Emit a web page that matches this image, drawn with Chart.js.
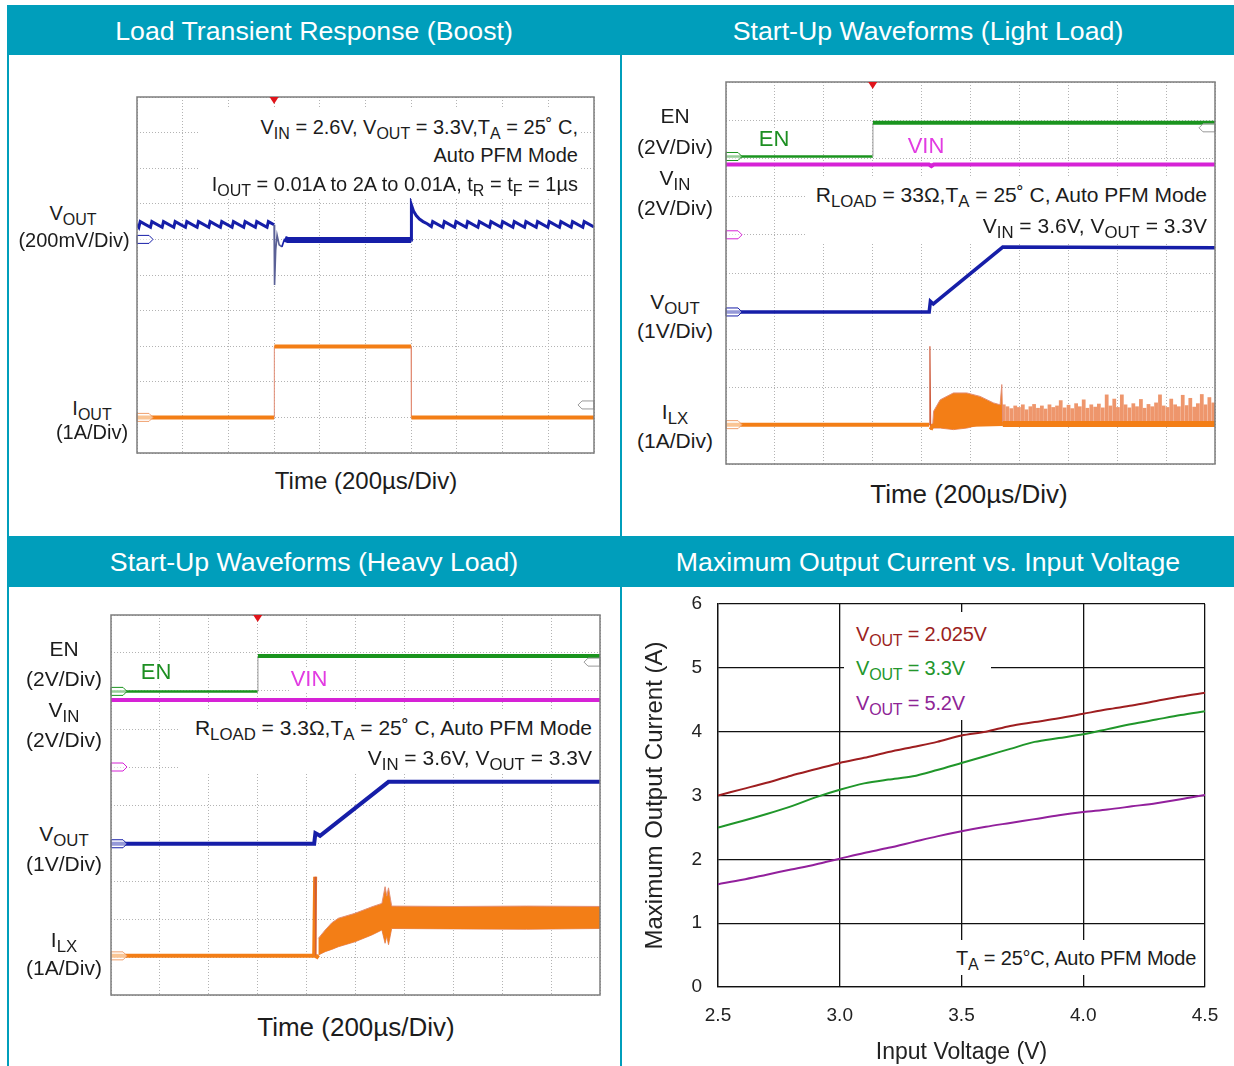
<!DOCTYPE html>
<html>
<head>
<meta charset="utf-8">
<title>Boost converter: load transient, start-up and maximum output current</title>
<script src="https://cdn.jsdelivr.net/npm/chart.js@4.4.1/dist/chart.umd.min.js"></script>
<style>
  html, body { margin: 0; padding: 0; background: #fff; }
  body { position: relative; width: 1234px; height: 1066px; overflow: hidden;
         font-family: "Liberation Sans", Arial, sans-serif; color: #1c1c1c; }
  .band { position: absolute; left: 7px; width: 1227px; background: #009ebb; }
  .rule { position: absolute; width: 2px; background: #009ebb; }
  .title { position: absolute; color: #fff; font-size: 26.7px; line-height: 1; white-space: nowrap;
           transform: translate(-50%, -50%); }
  .plot { position: absolute; }
  .wb { position: absolute; background: #fff; }
  .txt { position: absolute; white-space: nowrap; line-height: 1; }
  .c { transform: translate(-50%, -50%); }
  .r { transform: translate(-100%, -50%); }
  .l { transform: translate(0, -50%); }
  .s { font-size: 0.8em; position: relative; top: 0.32em; }
</style>
</head>
<body>

<!-- header bands and panel rules -->
<div class="band" style="top:5px;height:50px"></div>
<div class="band" style="top:536px;height:51px"></div>
<div class="rule" style="left:7px;top:55px;height:481px"></div>
<div class="rule" style="left:7px;top:587px;height:479px"></div>
<div class="rule" style="left:620px;top:55px;height:481px"></div>
<div class="rule" style="left:620px;top:587px;height:479px"></div>

<div class="title" style="left:314px;top:31px">Load Transient Response (Boost)</div>
<div class="title" style="left:928px;top:31px">Start-Up Waveforms (Light Load)</div>
<div class="title" style="left:314px;top:562px">Start-Up Waveforms (Heavy Load)</div>
<div class="title" style="left:928px;top:562px">Maximum Output Current vs. Input Voltage</div>

<canvas id="load-chart" class="plot" width="477" height="376" style="left:127px;top:87px"></canvas>
<canvas id="light-chart" class="plot" width="509" height="402" style="left:716px;top:72px"></canvas>
<canvas id="heavy-chart" class="plot" width="509" height="400" style="left:101px;top:605px"></canvas>
<canvas id="imax-chart" class="plot" width="604" height="476" style="left:630px;top:590px"></canvas>

<!-- white boxes behind in-plot notes -->
<div class="wb" style="left:198px;top:108px;width:382px;height:90px"></div>
<div class="wb" style="left:805px;top:178px;width:408px;height:64px"></div>
<div class="wb" style="left:180px;top:711px;width:418px;height:62px"></div>
<div class="wb" style="left:758px;top:128px;width:32px;height:22px"></div>
<div class="wb" style="left:907px;top:134px;width:39px;height:23px"></div>
<div class="wb" style="left:141px;top:661px;width:31px;height:22px"></div>
<div class="wb" style="left:290px;top:668px;width:38px;height:23px"></div>
<div class="wb" style="left:844px;top:612px;width:147px;height:108px"></div>
<div class="wb" style="left:950px;top:940px;width:248px;height:35px"></div>

<!-- panel 1 text -->
<div class="txt r" style="left:578px;top:127px;font-size:20px">V<span class="s">IN</span> = 2.6V, V<span class="s">OUT</span> = 3.3V,T<span class="s">A</span> = 25˚ C,</div>
<div class="txt r" style="left:578px;top:155px;font-size:20px">Auto PFM Mode</div>
<div class="txt r" style="left:578px;top:184px;font-size:20px">I<span class="s">OUT</span> = 0.01A to 2A to 0.01A, t<span class="s">R</span> = t<span class="s">F</span> = 1µs</div>
<div class="txt c" style="left:73px;top:213px;font-size:20px">V<span class="s">OUT</span></div>
<div class="txt c" style="left:74px;top:240px;font-size:20px">(200mV/Div)</div>
<div class="txt c" style="left:92px;top:408px;font-size:20px">I<span class="s">OUT</span></div>
<div class="txt c" style="left:92px;top:432px;font-size:20px">(1A/Div)</div>
<div class="txt c" style="left:366px;top:481px;font-size:24px">Time (200µs/Div)</div>

<!-- panel 2 text -->
<div class="txt c" style="left:774px;top:139px;font-size:22px;color:#1d8f22">EN</div>
<div class="txt c" style="left:926px;top:146px;font-size:22px;color:#e23ce2">VIN</div>
<div class="txt r" style="left:1207px;top:195px;font-size:21px">R<span class="s">LOAD</span> = 33Ω,T<span class="s">A</span> = 25˚ C, Auto PFM Mode</div>
<div class="txt r" style="left:1207px;top:226px;font-size:21px">V<span class="s">IN</span> = 3.6V, V<span class="s">OUT</span> = 3.3V</div>
<div class="txt c" style="left:675px;top:115px;font-size:21px">EN</div>
<div class="txt c" style="left:675px;top:146px;font-size:21px">(2V/Div)</div>
<div class="txt c" style="left:675px;top:178px;font-size:21px">V<span class="s">IN</span></div>
<div class="txt c" style="left:675px;top:207px;font-size:21px">(2V/Div)</div>
<div class="txt c" style="left:675px;top:302px;font-size:21px">V<span class="s">OUT</span></div>
<div class="txt c" style="left:675px;top:330px;font-size:21px">(1V/Div)</div>
<div class="txt c" style="left:675px;top:412px;font-size:21px">I<span class="s">LX</span></div>
<div class="txt c" style="left:675px;top:440px;font-size:21px">(1A/Div)</div>
<div class="txt c" style="left:969px;top:494px;font-size:26px">Time (200µs/Div)</div>

<!-- panel 3 text -->
<div class="txt c" style="left:156px;top:672px;font-size:22px;color:#1d8f22">EN</div>
<div class="txt c" style="left:309px;top:679px;font-size:22px;color:#e23ce2">VIN</div>
<div class="txt r" style="left:592px;top:728px;font-size:21px">R<span class="s">LOAD</span> = 3.3Ω,T<span class="s">A</span> = 25˚ C, Auto PFM Mode</div>
<div class="txt r" style="left:592px;top:758px;font-size:21px">V<span class="s">IN</span> = 3.6V, V<span class="s">OUT</span> = 3.3V</div>
<div class="txt c" style="left:64px;top:648px;font-size:21px">EN</div>
<div class="txt c" style="left:64px;top:678px;font-size:21px">(2V/Div)</div>
<div class="txt c" style="left:64px;top:710px;font-size:21px">V<span class="s">IN</span></div>
<div class="txt c" style="left:64px;top:739px;font-size:21px">(2V/Div)</div>
<div class="txt c" style="left:64px;top:834px;font-size:21px">V<span class="s">OUT</span></div>
<div class="txt c" style="left:64px;top:863px;font-size:21px">(1V/Div)</div>
<div class="txt c" style="left:64px;top:940px;font-size:21px">I<span class="s">LX</span></div>
<div class="txt c" style="left:64px;top:967px;font-size:21px">(1A/Div)</div>
<div class="txt c" style="left:356px;top:1027px;font-size:26px">Time (200µs/Div)</div>

<!-- panel 4 text -->
<div class="txt l" style="left:856px;top:634px;font-size:20px;letter-spacing:-0.2px;color:#9b1f22">V<span class="s">OUT</span> = 2.025V</div>
<div class="txt l" style="left:856px;top:668px;font-size:20px;letter-spacing:-0.2px;color:#23962c">V<span class="s">OUT</span> = 3.3V</div>
<div class="txt l" style="left:856px;top:703px;font-size:20px;letter-spacing:-0.2px;color:#8e2496">V<span class="s">OUT</span> = 5.2V</div>
<div class="txt l" style="left:956px;top:958px;font-size:20px;letter-spacing:-0.2px">T<span class="s">A</span> = 25°C, Auto PFM Mode</div>

<script>
// Four panels: three scope captures (time in µs, traces in scope divisions 0..10)
// and one measured curve set (max output current vs input voltage).

// ---- Load transient response (boost) ----
const loadTrigger = 600;
const loadVoutT = [0, 8, 14, 59, 65, 110, 116, 161, 167, 212, 218, 263, 269, 314, 320, 365, 371, 416, 422, 467, 473, 518, 524, 569, 575,
  600, 601, 603, 607, 613, 622, 634, 646, 660, 1200,
  1201, 1210, 1222, 1236, 1252, 1270, 1288, 1294, 1339, 1345, 1390, 1396, 1441, 1447, 1492, 1498, 1543, 1549,
  1594, 1600, 1645, 1651, 1696, 1702, 1747, 1753, 1798, 1804, 1849, 1855, 1900, 1906, 1951, 1957, 2000];
const loadVoutDiv = [6.42, 6.34, 6.50, 6.34, 6.50, 6.34, 6.50, 6.34, 6.50, 6.34, 6.50, 6.34, 6.50, 6.34, 6.50, 6.34, 6.50, 6.34, 6.50, 6.34, 6.50, 6.34, 6.50, 6.34, 6.50,
  6.41, 5.40, 4.72, 5.70, 6.12, 5.85, 5.79, 6.02, 5.98, 5.98,
  6.97, 6.80, 6.67, 6.57, 6.50, 6.44, 6.36, 6.50, 6.34, 6.50, 6.34, 6.50, 6.34, 6.50, 6.34, 6.50, 6.34, 6.50,
  6.34, 6.50, 6.34, 6.50, 6.34, 6.50, 6.34, 6.50, 6.34, 6.50, 6.34, 6.50, 6.34, 6.50, 6.34, 6.50, 6.35];
const loadIoutT = [0, 600, 601, 1200, 1201, 2000];
const loadIoutDiv = [1.00, 1.00, 2.99, 2.99, 1.00, 1.00];

// ---- Start-up, light load ----
const lightTrigger = 600;
const lightEnT = [0, 600, 601, 2000];
const lightEnDiv = [8.05, 8.05, 8.93, 8.93];
const lightVinT = [0, 830, 840, 850, 2000];
const lightVinDiv = [7.84, 7.84, 7.80, 7.84, 7.84];
const lightVoutT = [0, 831, 836, 848, 1132, 2000];
const lightVoutDiv = [3.98, 3.98, 4.26, 4.19, 5.68, 5.66];
const lightIlxT = [0, 831, 834, 837, 845, 1132, 2000];
const lightIlxDiv = [1.03, 1.03, 3.08, 0.90, 1.00, 1.05, 1.05];
const lightRampT = [845, 849, 876, 930, 985, 1039, 1094, 1121, 1128, 1132];
const lightRampHi = [1.00, 1.38, 1.68, 1.86, 1.86, 1.77, 1.60, 1.55, 2.08, 1.10];
const lightRampLo = [0.95, 0.94, 0.94, 0.90, 0.94, 1.03, 1.07, 1.07, 1.05, 1.03];
const lightPfmBase = 1.03;
const lightPfmT = [1136, 1151, 1167, 1183, 1198, 1214, 1229, 1245, 1260, 1276, 1292, 1307, 1323, 1338, 1354, 1369,
  1385, 1401, 1416, 1432, 1447, 1463, 1478, 1494, 1510, 1525, 1541, 1557, 1572, 1588, 1603, 1619,
  1634, 1650, 1666, 1681, 1697, 1712, 1728, 1743, 1759, 1775, 1790, 1806, 1821, 1837, 1852, 1868,
  1884, 1899, 1915, 1930, 1946, 1961, 1977, 1993];
const lightPfmPeak = [1.55, 1.50, 1.45, 1.52, 1.48, 1.55, 1.42, 1.50, 1.56, 1.46, 1.52, 1.44, 1.55, 1.48, 1.52, 1.66,
  1.47, 1.54, 1.45, 1.58, 1.50, 1.68, 1.46, 1.55, 1.49, 1.57, 1.47, 1.81, 1.52, 1.70, 1.48, 1.81,
  1.55, 1.47, 1.58, 1.50, 1.69, 1.46, 1.56, 1.50, 1.60, 1.81, 1.52, 1.48, 1.70, 1.55, 1.50, 1.80,
  1.53, 1.72, 1.49, 1.58, 1.82, 1.55, 1.74, 1.60];

// ---- Start-up, heavy load ----
const heavyTrigger = 600;
const heavyEnT = [0, 600, 601, 2000];
const heavyEnDiv = [7.99, 7.99, 8.92, 8.92];
const heavyVinT = [0, 2000];
const heavyVinDiv = [7.76, 7.76];
const heavyVoutT = [0, 831, 836, 855, 1135, 2000];
const heavyVoutDiv = [3.98, 3.98, 4.26, 4.19, 5.61, 5.61];
const heavyIlxT = [0, 831, 835, 838, 848];
const heavyIlxDiv = [1.03, 1.03, 3.11, 0.97, 1.05];
const heavyBandT = [848, 876, 903, 930, 998, 1067, 1108, 1121, 1128, 1135, 1148, 1400, 1700, 2000];
const heavyBandHi = [1.49, 1.71, 1.90, 2.02, 2.15, 2.32, 2.41, 2.85, 2.60, 2.82, 2.34, 2.33, 2.34, 2.33];
const heavyBandLo = [1.05, 1.14, 1.20, 1.27, 1.40, 1.58, 1.71, 1.36, 1.55, 1.32, 1.75, 1.74, 1.73, 1.75];

// ---- Maximum output current vs input voltage ----
const inputVoltage = [2.5, 2.6, 2.7, 2.8, 2.9, 3.0, 3.1, 3.2, 3.3, 3.4, 3.5, 3.6, 3.7, 3.8, 3.9, 4.0, 4.1, 4.2, 4.3, 4.4, 4.5];
const imaxVout2025 = [3.00, 3.10, 3.20, 3.31, 3.41, 3.51, 3.59, 3.68, 3.76, 3.84, 3.94, 4.00, 4.09, 4.15, 4.21, 4.28, 4.35, 4.41, 4.48, 4.55, 4.61];
const imaxVout33 = [2.50, 2.60, 2.71, 2.83, 2.97, 3.09, 3.19, 3.25, 3.30, 3.40, 3.51, 3.62, 3.73, 3.84, 3.90, 3.96, 4.04, 4.12, 4.19, 4.26, 4.32];
const imaxVout52 = [1.61, 1.68, 1.76, 1.84, 1.92, 2.01, 2.10, 2.18, 2.27, 2.36, 2.44, 2.51, 2.57, 2.63, 2.69, 2.74, 2.78, 2.83, 2.88, 2.94, 3.01];

// colours
const C_BLUE = 'rgb(22,30,168)';
const C_ORANGE = 'rgb(243,126,22)';
const C_EDGE = 'rgb(226,142,118)';
const C_GREEN = 'rgb(26,148,30)';
const C_MAGENTA = 'rgb(214,34,214)';

Chart.defaults.font.family = '"Liberation Sans", Arial, sans-serif';

const pts = (xs, ys) => xs.map((x, i) => ({ x, y: ys[i] }));
const steep = c => Math.abs(c.p1.parsed.x - c.p0.parsed.x) < 4;

function drawTag(ctx, x, y, dir, color) {
  const w = 12, h = 8;
  ctx.beginPath();
  ctx.moveTo(x, y - h / 2);
  ctx.lineTo(x + dir * w, y - h / 2);
  ctx.lineTo(x + dir * (w + 4), y);
  ctx.lineTo(x + dir * w, y + h / 2);
  ctx.lineTo(x, y + h / 2);
  ctx.closePath();
  ctx.fillStyle = 'rgba(255,255,255,0.55)';
  ctx.fill();
  ctx.strokeStyle = color;
  ctx.lineWidth = 1;
  ctx.stroke();
}

// frame, trigger marker and channel tags of a scope screen
const scopeDecor = {
  id: 'scopeDecor',
  afterDatasetsDraw(chart, args, opts) {
    const { ctx, chartArea: a, scales: { x, y } } = chart;
    ctx.save();
    (opts.tags || []).forEach(t => {
      const ty = y.getPixelForValue(t.level);
      if (t.side === 'right') drawTag(ctx, a.right, ty, -1, t.color);
      else drawTag(ctx, a.left, ty, 1, t.color);
    });
    ctx.strokeStyle = '#7d7d7d';
    ctx.lineWidth = 1.5;
    ctx.strokeRect(a.left, a.top, a.right - a.left, a.bottom - a.top);
    const tx = x.getPixelForValue(opts.trigger);
    ctx.fillStyle = '#e0141a';
    ctx.beginPath();
    ctx.moveTo(tx - 4.5, a.top);
    ctx.lineTo(tx + 4.5, a.top);
    ctx.lineTo(tx, a.top + 7);
    ctx.closePath();
    ctx.fill();
    ctx.restore();
  }
};

function scopeAxis(max, step) {
  return {
    type: 'linear', min: 0, max: max, offset: false,
    ticks: { display: false, stepSize: step },
    grid: { color: '#b3b3b3', lineWidth: 1, drawTicks: false, offset: false },
    border: { display: false, dash: [1, 2] }
  };
}

function scopeChart(id, datasets, decor) {
  return new Chart(document.getElementById(id), {
    type: 'line',
    data: { datasets },
    options: {
      responsive: false,
      animation: false,
      events: [],
      layout: { padding: 10 },
      plugins: { legend: { display: false }, tooltip: { enabled: false }, scopeDecor: decor },
      elements: { point: { radius: 0 }, line: { tension: 0 } },
      scales: { x: scopeAxis(2000, 200), y: scopeAxis(10, 1) }
    },
    plugins: [scopeDecor]
  });
}

// Load transient
scopeChart('load-chart', [
  {
    data: pts(loadVoutT, loadVoutDiv), borderColor: C_BLUE, borderWidth: 3,
    segment: {
      borderWidth: c => {
        const a = c.p0.parsed.x, b = c.p1.parsed.x;
        if (a >= loadIoutT[1] && b <= 646) return 1.6;
        if (a >= 646 && b <= loadIoutT[3]) return 6;
        return undefined;
      },
      borderColor: c => (c.p0.parsed.x >= loadIoutT[1] && c.p1.parsed.x <= 634 ? 'rgb(90,96,150)' : undefined)
    }
  },
  {
    data: pts(loadIoutT, loadIoutDiv), borderColor: C_ORANGE, borderWidth: 4,
    segment: { borderWidth: c => (steep(c) ? 1 : undefined), borderColor: c => (steep(c) ? C_EDGE : undefined) }
  }
], {
  trigger: loadTrigger,
  tags: [
    { level: 1.0, color: 'rgb(240,160,110)' },
    { level: 6.0, color: C_BLUE },
    { level: 1.35, color: '#999', side: 'right' }
  ]
});

// Start-up, light load
scopeChart('light-chart', [
  {
    data: pts(lightEnT, lightEnDiv), borderColor: C_GREEN, borderWidth: 4,
    segment: {
      borderWidth: c => (steep(c) ? 1 : (c.p0.parsed.y < 8.5 ? 2.5 : undefined)),
      borderColor: c => (steep(c) ? '#999' : undefined)
    }
  },
  { data: pts(lightVinT, lightVinDiv), borderColor: C_MAGENTA, borderWidth: 4 },
  { data: pts(lightVoutT, lightVoutDiv), borderColor: C_BLUE, borderWidth: 3.5 },
  {
    data: pts(lightIlxT, lightIlxDiv), borderColor: C_ORANGE, borderWidth: 4,
    segment: {
      borderWidth: c => (steep(c) ? 1.2 : (c.p0.parsed.x >= 1132 ? 6 : undefined)),
      borderColor: c => (steep(c) ? 'rgb(205,90,60)' : undefined)
    }
  },
  { data: pts(lightRampT, lightRampHi), borderColor: C_EDGE, borderWidth: 1, backgroundColor: C_ORANGE, fill: '+1' },
  { data: pts(lightRampT, lightRampLo), borderColor: C_EDGE, borderWidth: 1 },
  {
    type: 'bar',
    data: lightPfmT.map((t, i) => ({ x: t, y: [lightPfmBase, lightPfmPeak[i]] })),
    backgroundColor: 'rgb(238,150,108)', borderWidth: 0, barThickness: 3.1
  }
], {
  trigger: lightTrigger,
  tags: [
    { level: 8.05, color: C_GREEN },
    { level: 6.0, color: C_MAGENTA },
    { level: 3.98, color: C_BLUE },
    { level: 1.03, color: 'rgb(240,160,110)' },
    { level: 8.8, color: '#999', side: 'right' }
  ]
});

// Start-up, heavy load
scopeChart('heavy-chart', [
  {
    data: pts(heavyEnT, heavyEnDiv), borderColor: C_GREEN, borderWidth: 4,
    segment: {
      borderWidth: c => (steep(c) ? 1 : (c.p0.parsed.y < 8.5 ? 2.5 : undefined)),
      borderColor: c => (steep(c) ? '#999' : undefined)
    }
  },
  { data: pts(heavyVinT, heavyVinDiv), borderColor: C_MAGENTA, borderWidth: 4 },
  { data: pts(heavyVoutT, heavyVoutDiv), borderColor: C_BLUE, borderWidth: 4 },
  {
    data: pts(heavyIlxT, heavyIlxDiv), borderColor: C_ORANGE, borderWidth: 4,
    segment: {
      borderWidth: c => (steep(c) ? 1.2 : undefined),
      borderColor: c => (steep(c) ? 'rgb(205,90,60)' : undefined)
    }
  },
  { data: pts(heavyBandT, heavyBandHi), borderColor: C_EDGE, borderWidth: 1, backgroundColor: C_ORANGE, fill: '+1' },
  { data: pts(heavyBandT, heavyBandLo), borderColor: C_EDGE, borderWidth: 1 }
], {
  trigger: heavyTrigger,
  tags: [
    { level: 7.99, color: C_GREEN },
    { level: 6.0, color: C_MAGENTA },
    { level: 3.98, color: C_BLUE },
    { level: 1.03, color: 'rgb(240,160,110)' },
    { level: 8.76, color: '#999', side: 'right' }
  ]
});

// Maximum output current vs input voltage
new Chart(document.getElementById('imax-chart'), {
  type: 'line',
  data: {
    datasets: [
      { data: pts(inputVoltage, imaxVout2025), borderColor: 'rgb(158,30,32)', borderWidth: 2 },
      { data: pts(inputVoltage, imaxVout33), borderColor: 'rgb(32,150,42)', borderWidth: 2 },
      { data: pts(inputVoltage, imaxVout52), borderColor: 'rgb(146,32,156)', borderWidth: 2 }
    ]
  },
  options: {
    responsive: false,
    animation: false,
    events: [],
    layout: { padding: { left: 0, top: 14, right: 29, bottom: 0 } },
    plugins: { legend: { display: false }, tooltip: { enabled: false } },
    elements: { point: { radius: 0 }, line: { tension: 0.3 } },
    scales: {
      x: {
        type: 'linear', min: 2.5, max: 4.5,
        ticks: { stepSize: 0.5, padding: 17, color: '#222', font: { size: 19 }, callback: v => v.toFixed(1) },
        grid: { color: '#111', lineWidth: 1.3, drawTicks: false },
        border: { color: '#111', width: 1.3 },
        title: { display: true, text: 'Input Voltage (V)', color: '#222', font: { size: 23 }, padding: { top: 0, bottom: 0 } },
        afterFit: s => { s.height = 79; s.paddingLeft = 0; s.paddingRight = 0; }
      },
      y: {
        min: 0, max: 6,
        ticks: { stepSize: 1, padding: 16, color: '#222', font: { size: 19 } },
        grid: { color: '#111', lineWidth: 1.3, drawTicks: false },
        border: { color: '#111', width: 1.3 },
        title: { display: true, text: 'Maximum Output Current (A)', color: '#222', font: { size: 24 }, padding: { top: 11, bottom: 0 } },
        afterFit: s => { s.width = 88; s.paddingTop = 0; s.paddingBottom = 0; }
      }
    }
  }
});
</script>
</body>
</html>
